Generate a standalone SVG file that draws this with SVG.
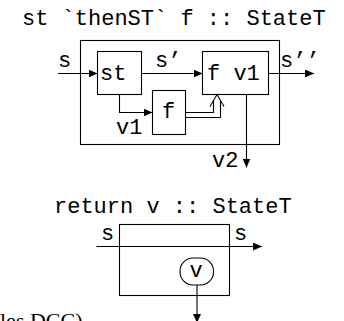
<svg xmlns="http://www.w3.org/2000/svg" width="344" height="321" viewBox="0 0 344 321">
  <style>
    .box { fill: #fff; stroke: #000; stroke-width: 1.1; }
    .ln { fill: none; stroke: #000; stroke-width: 1.1; }
    .arr { marker-end: url(#ah); }
    text { font-family: "Liberation Mono", "Courier New", monospace; font-size: 22px; fill: #000; }
    .serif { font-family: "Liberation Serif", "Times New Roman", serif; }
  </style>
  <defs>
    <marker id="ah" markerUnits="userSpaceOnUse" markerWidth="10" markerHeight="9" refX="9" refY="4" orient="auto">
      <path d="M0,0 L9,4 L0,8 z" fill="#000"/>
    </marker>
  </defs>
  <rect width="344" height="321" fill="#fff"/>

  <text x="22" y="25">st `thenST` f :: StateT</text>

  <g id="outer"><rect class="box" x="80.5" y="40.5" width="199" height="104"/></g>
  <g id="st"><rect class="box" x="97.5" y="51.5" width="44" height="43"/><text x="100" y="80">st</text></g>
  <g id="fv1"><rect class="box" x="202.5" y="51.5" width="66" height="43"/><text x="207" y="80">f v1</text></g>
  <g id="f"><rect class="box" x="152.5" y="90.5" width="33" height="44"/><text x="162" y="118">f</text></g>

  <text x="54" y="213">return v :: StateT</text>

  <g id="ret"><rect class="box" x="119.5" y="224.5" width="110" height="71"/></g>
  <g id="v"><rect class="box" x="180" y="258" width="33.5" height="27" rx="13" ry="13"/><text x="189.5" y="277">v</text></g>

  <g id="connectors">
    <path class="ln arr" d="M58,73.5 H97.5"/>
    <path class="ln arr" d="M141.5,73.5 H202.5"/>
    <path class="ln arr" d="M268.5,73.5 H314"/>
    <path class="ln arr" d="M119.5,94.5 V112.5 H152.5"/>
    <path class="ln arr" d="M246.5,94.5 V167.5"/>
    <path class="ln" d="M185.5,112.5 H213.5 V100.5"/>
    <path class="ln" d="M185.5,117.5 H220.5 V100.5"/>
    <path class="ln" d="M210,106.5 L217,94.5 L224,106.5"/>
    <path class="ln arr" d="M96.5,246.5 H262"/>
    <path class="ln arr" d="M197,285 V323"/>
  </g>

  <g id="labels">
    <text x="58" y="67">s</text>
    <text x="155" y="67">s’</text>
    <text x="280" y="67">s’’</text>
    <text x="116" y="134">v1</text>
    <text x="212" y="167">v2</text>
    <text x="101" y="240">s</text>
    <text x="234" y="240">s</text>
  </g>

  <text class="serif" x="0" y="328" font-size="22">les DCC)</text>
</svg>
